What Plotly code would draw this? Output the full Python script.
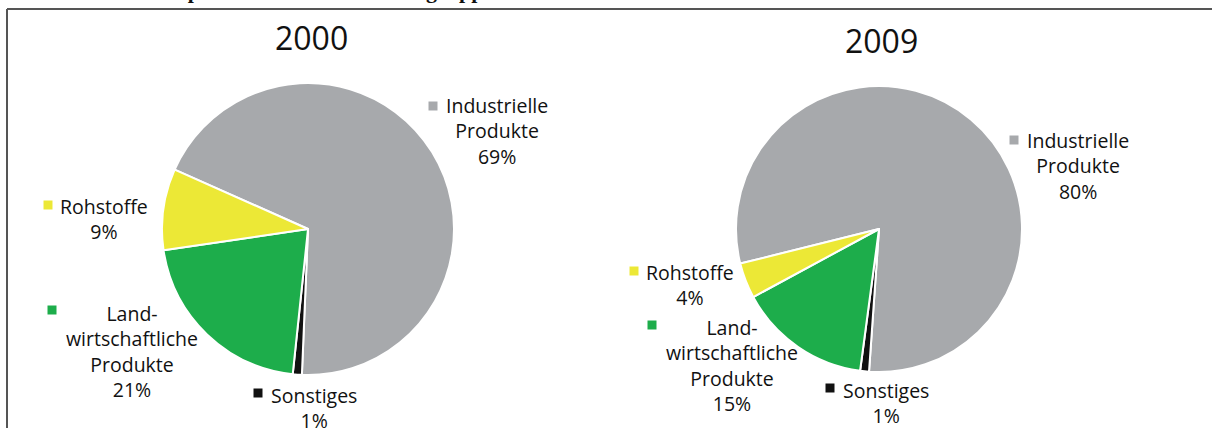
import plotly.graph_objects as go

W, H = 1212, 428

# Exportstruktur nach Warengruppen
labels = ["Industrielle Produkte", "Sonstiges", "Landwirtschaftliche Produkte", "Rohstoffe"]
colors = ["#A7A9AC", "#111111", "#1DAD4B", "#ECE836"]
values_2000 = [69, 1, 21, 9]
values_2009 = [80, 1, 15, 4]
years = ["2000", "2009"]

label_text = {
    "Industrielle Produkte": "Industrielle<br>Produkte",
    "Sonstiges": "Sonstiges",
    "Landwirtschaftliche Produkte": "Land-<br>wirtschaftliche<br>Produkte",
    "Rohstoffe": "Rohstoffe",
}


def px(x):
    return x / W


def py(y):
    return 1 - y / H


FONT = "Open Sans, Liberation Sans, sans-serif"

fig = go.Figure()

# pie positions in pixels: (left, right, top, bottom), rotation of first slice
pies = [
    (values_2000, (162, 454, 83, 375), 294),
    (values_2009, (736, 1022, 86, 372), 256),
]
for vals, (l, r, t, b), rot in pies:
    fig.add_trace(go.Pie(
        labels=labels,
        values=vals,
        marker=dict(colors=colors, line=dict(color="white", width=2)),
        sort=False,
        direction="clockwise",
        rotation=rot,
        textinfo="none",
        hoverinfo="label+percent",
        domain=dict(x=[px(l), px(r)], y=[py(b), py(t)]),
        showlegend=False,
    ))

annotations = []
shapes = []

# titles
for yr, (x, y) in zip(years, [(311, 38), (881, 40)]):
    annotations.append(dict(x=px(x), y=py(y), text=yr, showarrow=False,
                            xanchor="center", yanchor="middle",
                            font=dict(family=FONT, size=32, color="#111")))

# slice labels: (pie index, label, text centre x, first line y, square x, square y)
label_pos = [
    (0, "Industrielle Produkte", 497, 106, 433, 106),
    (0, "Rohstoffe", 104, 206, 48, 205),
    (0, "Landwirtschaftliche Produkte", 132, 313, 52, 310),
    (0, "Sonstiges", 314, 395, 258, 393),
    (1, "Industrielle Produkte", 1078, 140, 1014, 140),
    (1, "Rohstoffe", 690, 272, 634, 271),
    (1, "Landwirtschaftliche Produkte", 732, 327, 652, 325),
    (1, "Sonstiges", 886, 390, 830, 388),
]
all_vals = [values_2000, values_2009]
for i, lab, tx, ty, sx, sy in label_pos:
    k = labels.index(lab)
    txt = label_text[lab] + "<br>" + f"{all_vals[i][k]}%"
    n = txt.count("<br>") + 1
    lh = 25.5
    cy = ty + (n - 1) * lh / 2
    annotations.append(dict(x=px(tx), y=py(cy), text=txt, showarrow=False,
                            xanchor="center", yanchor="middle", align="center",
                            font=dict(family=FONT, size=19.5, color="#111")))
    shapes.append(dict(type="rect", xref="paper", yref="paper",
                       x0=px(sx - 4.5), x1=px(sx + 4.5),
                       y0=py(sy + 4.5), y1=py(sy - 4.5),
                       fillcolor=colors[k], line=dict(width=0)))

# cut-off heading above the frame
annotations.append(dict(x=px(160), y=py(5), text="<b>Exportstruktur nach Warengruppen</b>",
                        showarrow=False, xanchor="left", yanchor="bottom",
                        font=dict(family="Liberation Serif, serif", size=22, color="#111")))

# frame lines
shapes.append(dict(type="line", xref="paper", yref="paper", x0=px(7), x1=1.0,
                   y0=py(9), y1=py(9), line=dict(color="#555", width=2)))
shapes.append(dict(type="line", xref="paper", yref="paper", x0=px(7), x1=px(7),
                   y0=py(9), y1=0, line=dict(color="#555", width=2)))

fig.update_layout(
    width=W, height=H,
    margin=dict(l=0, r=0, t=0, b=0),
    paper_bgcolor="white",
    plot_bgcolor="white",
    annotations=annotations,
    shapes=shapes,
)

fig.write_html("out.html", config={"displayModeBar": False},
               post_script="document.body.style.margin='0';")
